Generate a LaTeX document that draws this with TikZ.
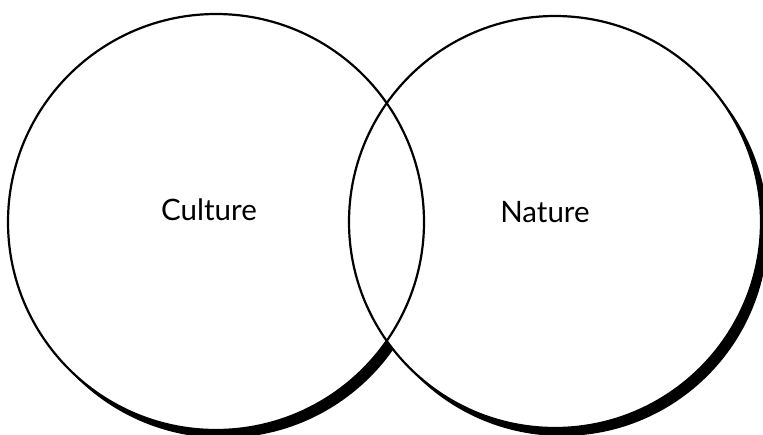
\documentclass[tikz,border=0pt]{standalone}
\usepackage{fontspec}
\setmainfont{Lato}
\begin{document}
\begin{tikzpicture}[x=1pt,y=-1pt,
  ring/.style={draw=black,line width=2.2pt},
  shade/.style={fill=black},
  label/.style={font=\fontsize{29.5}{32}\selectfont,inner sep=0pt}]
\useasboundingbox (0,0) rectangle (763,434);
% left circle shadow and fill
\fill[shade] (223,230) circle (208);
\fill[white] (216,222) circle (208);
% right circle shadow and fill
\fill[shade] (562,230) circle (206);
\fill[white] (555,222) circle (206);
% outlines
\node[ring,circle,minimum size=416pt,inner sep=0pt] (culturering) at (216,222) {};
\node[ring,circle,minimum size=412pt,inner sep=0pt] (naturering) at (555,222) {};
% labels
\node[label] (culture) at (209,210) {Culture};
\node[label] (nature) at (545,212) {Nature};
\end{tikzpicture}
\end{document}
